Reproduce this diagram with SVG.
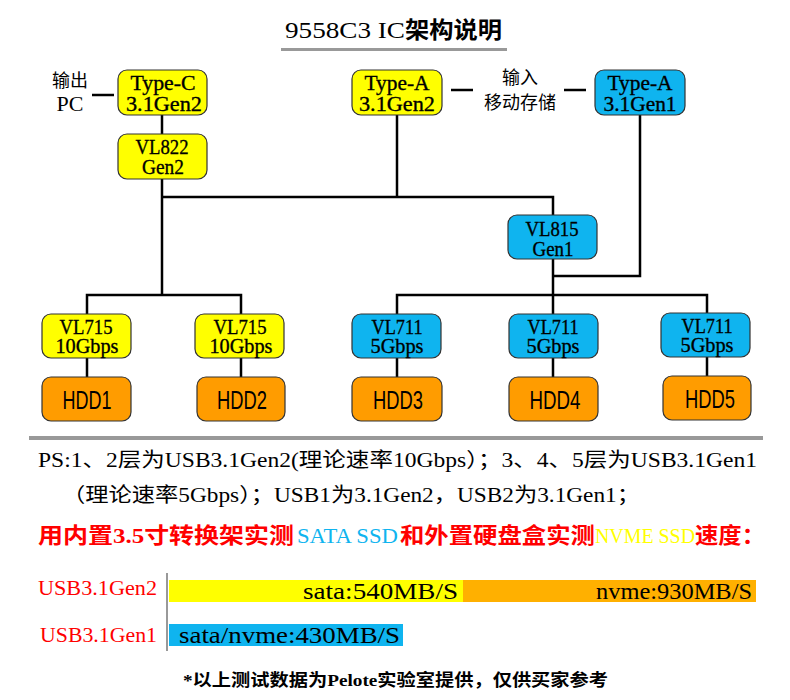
<svg xmlns="http://www.w3.org/2000/svg" width="790" height="700" viewBox="0 0 790 700">
<style>
.lbl{font-family:"Liberation Serif","Noto Sans CJK SC",serif;font-size:22px;fill:#000;stroke:#000;stroke-width:0.35px;text-anchor:middle}
.hdd{font-family:"Liberation Sans","Noto Sans CJK SC",sans-serif;font-size:25px;fill:#000;text-anchor:middle}
.cjk{font-family:"Noto Sans CJK SC",sans-serif;font-size:18px;fill:#000;text-anchor:middle}
.txt{font-family:"Liberation Serif","Noto Sans CJK SC",serif;font-size:20px;fill:#000}
.red{font-family:"Liberation Serif","Noto Sans CJK SC",serif;font-size:22px;font-weight:bold}
.reg{font-weight:normal}
.bar{font-family:"Liberation Serif","Noto Sans CJK SC",serif;font-size:24px;fill:#000}
.usb{font-family:"Liberation Serif","Noto Sans CJK SC",serif;font-size:20px;fill:#ff0000}
.y{fill:#ffff00;stroke:#333;stroke-width:1.2}
.b{fill:#0fb4ef;stroke:#333;stroke-width:1.2}
.o{fill:#ff9c00;stroke:#333;stroke-width:1.2}
.ln{stroke:#000;stroke-width:2.5;fill:none}
</style>
<rect width="790" height="700" fill="#fff"/>
<g id="title">
<text x="285" y="38" font-family="Liberation Serif,Noto Sans CJK SC,serif" font-size="24" textLength="120" lengthAdjust="spacingAndGlyphs">9558C3 IC</text>
<text x="405" y="38" font-family="Noto Sans CJK SC,sans-serif" font-size="23" font-weight="bold" textLength="97" lengthAdjust="spacingAndGlyphs">架构说明</text>
<rect x="281" y="48" width="226" height="3" fill="#999"/>
</g>
<g id="connectors" class="ln">
<path d="M92 95H114"/>
<path d="M451 90H473M564 90H586"/>
<path d="M162 115V134"/>
<path d="M162 179V295"/>
<path d="M397 115V197"/>
<path d="M162 197H553V215"/>
<path d="M640 115V276H553"/>
<path d="M553 259V314"/>
<path d="M397 314V295H707V313"/>
<path d="M87 314V295H241V314"/>
<path d="M87 358V377M241 358V377M397 358V377M553 358V377M707 357V376"/>
</g>
<g id="out-pc">
<text class="cjk" x="70" y="87">输出</text>
<text class="lbl" x="70" y="111" font-size="20" style="stroke-width:0">PC</text>
</g>
<g id="in-storage">
<text class="cjk" x="520" y="84"><tspan x="520" y="84">输入</tspan><tspan x="520" y="109">移动存储</tspan></text>
</g>
<g id="typec">
<rect class="y" x="118" y="70" width="89" height="45" rx="9"/>
<text class="lbl"><tspan x="163" y="90" textLength="65" lengthAdjust="spacingAndGlyphs">Type-C</tspan><tspan x="164" y="111" textLength="76" lengthAdjust="spacingAndGlyphs">3.1Gen2</tspan></text>
</g>
<g id="vl822">
<rect class="y" x="118" y="134" width="89" height="45" rx="9"/>
<text class="lbl"><tspan x="162" y="154" textLength="53" lengthAdjust="spacingAndGlyphs">VL822</tspan><tspan x="163" y="174" textLength="42" lengthAdjust="spacingAndGlyphs">Gen2</tspan></text>
</g>
<g id="typea1">
<rect class="y" x="352" y="70" width="90" height="45" rx="9"/>
<text class="lbl"><tspan x="397" y="90" textLength="65" lengthAdjust="spacingAndGlyphs">Type-A</tspan><tspan x="397" y="111" textLength="76" lengthAdjust="spacingAndGlyphs">3.1Gen2</tspan></text>
</g>
<g id="typea2">
<rect class="b" x="595" y="70" width="90" height="45" rx="9"/>
<text class="lbl"><tspan x="640" y="90" textLength="65" lengthAdjust="spacingAndGlyphs">Type-A</tspan><tspan x="640" y="111" textLength="73" lengthAdjust="spacingAndGlyphs">3.1Gen1</tspan></text>
</g>
<g id="vl815">
<rect class="b" x="508" y="215" width="89" height="44" rx="9"/>
<text class="lbl"><tspan x="552" y="236" textLength="53" lengthAdjust="spacingAndGlyphs">VL815</tspan><tspan x="553" y="256" textLength="41" lengthAdjust="spacingAndGlyphs">Gen1</tspan></text>
</g>
<g id="vl715a">
<rect class="y" x="42" y="314" width="89" height="44" rx="9"/>
<text class="lbl"><tspan x="86" y="334" textLength="53" lengthAdjust="spacingAndGlyphs">VL715</tspan><tspan x="87" y="353" textLength="63" lengthAdjust="spacingAndGlyphs">10Gbps</tspan></text>
</g>
<g id="vl715b">
<rect class="y" x="195" y="314" width="89" height="44" rx="9"/>
<text class="lbl"><tspan x="240" y="334" textLength="53" lengthAdjust="spacingAndGlyphs">VL715</tspan><tspan x="241" y="353" textLength="63" lengthAdjust="spacingAndGlyphs">10Gbps</tspan></text>
</g>
<g id="vl711a">
<rect class="b" x="352" y="314" width="89" height="44" rx="9"/>
<text class="lbl"><tspan x="397" y="334" textLength="51" lengthAdjust="spacingAndGlyphs">VL711</tspan><tspan x="397" y="353" textLength="53" lengthAdjust="spacingAndGlyphs">5Gbps</tspan></text>
</g>
<g id="vl711b">
<rect class="b" x="509" y="314" width="89" height="44" rx="9"/>
<text class="lbl"><tspan x="553" y="334" textLength="51" lengthAdjust="spacingAndGlyphs">VL711</tspan><tspan x="553" y="353" textLength="53" lengthAdjust="spacingAndGlyphs">5Gbps</tspan></text>
</g>
<g id="vl711c">
<rect class="b" x="661" y="313" width="89" height="44" rx="9"/>
<text class="lbl"><tspan x="707" y="333" textLength="51" lengthAdjust="spacingAndGlyphs">VL711</tspan><tspan x="707" y="352" textLength="53" lengthAdjust="spacingAndGlyphs">5Gbps</tspan></text>
</g>
<g id="hdd1">
<rect class="o" x="42" y="377" width="89" height="44" rx="9"/>
<text class="hdd" x="87" y="409" textLength="49" lengthAdjust="spacingAndGlyphs">HDD1</text>
</g>
<g id="hdd2">
<rect class="o" x="197" y="377" width="88" height="44" rx="9"/>
<text class="hdd" x="242" y="409" textLength="50" lengthAdjust="spacingAndGlyphs">HDD2</text>
</g>
<g id="hdd3">
<rect class="o" x="352" y="377" width="90" height="44" rx="9"/>
<text class="hdd" x="398" y="409" textLength="50" lengthAdjust="spacingAndGlyphs">HDD3</text>
</g>
<g id="hdd4">
<rect class="o" x="509" y="377" width="89" height="44" rx="9"/>
<text class="hdd" x="555" y="409" textLength="51" lengthAdjust="spacingAndGlyphs">HDD4</text>
</g>
<g id="hdd5">
<rect class="o" x="663" y="376" width="88" height="44" rx="9"/>
<text class="hdd" x="710" y="408" textLength="50" lengthAdjust="spacingAndGlyphs">HDD5</text>
</g>
<rect x="29" y="436" width="734" height="4" fill="#999"/>
<g id="notes">
<text class="txt" x="38" y="467" textLength="719" lengthAdjust="spacingAndGlyphs">PS:1、2层为USB3.1Gen2(理论速率10Gbps）；3、4、5层为USB3.1Gen1</text>
<text class="txt" x="62" y="502" textLength="578" lengthAdjust="spacingAndGlyphs">（理论速率5Gbps）；USB1为3.1Gen2，USB2为3.1Gen1；</text>
<text class="red" x="38" y="543" fill="#ff0000" textLength="256" lengthAdjust="spacingAndGlyphs">用内置3.5寸转换架实测</text>
<text class="red reg" x="297" y="543" fill="#0fb4ef" textLength="101" lengthAdjust="spacingAndGlyphs">SATA SSD</text>
<text class="red" x="400" y="543" fill="#ff0000" textLength="195" lengthAdjust="spacingAndGlyphs">和外置硬盘盒实测</text>
<text class="red reg" x="595" y="543" fill="#ffff00" textLength="100" lengthAdjust="spacingAndGlyphs">NVME SSD</text>
<text class="red" x="695" y="543" fill="#ff0000" textLength="70" lengthAdjust="spacingAndGlyphs">速度：</text>
</g>
<g id="chart">
<rect x="166" y="573" width="2" height="78" fill="#999"/>
<text class="usb" x="38" y="595" textLength="119" lengthAdjust="spacingAndGlyphs">USB3.1Gen2</text>
<text class="usb" x="40" y="642" textLength="117" lengthAdjust="spacingAndGlyphs">USB3.1Gen1</text>
<rect x="169" y="580" width="294" height="22" fill="#ffff00"/>
<rect x="463" y="580" width="293" height="22" fill="#ffb000"/>
<rect x="169" y="624" width="234" height="22" fill="#0fb4ef"/>
<text class="bar" x="303" y="599" textLength="155" lengthAdjust="spacingAndGlyphs">sata:540MB/S</text>
<text class="bar" x="596" y="599" textLength="156" lengthAdjust="spacingAndGlyphs">nvme:930MB/S</text>
<text class="bar" x="179" y="643" textLength="221" lengthAdjust="spacingAndGlyphs">sata/nvme:430MB/S</text>
</g>
<text x="183" y="686" font-family="Liberation Serif,Noto Sans CJK SC,serif" font-size="17" font-weight="bold" textLength="425" lengthAdjust="spacingAndGlyphs">*以上测试数据为Pelote实验室提供，仅供买家参考</text>
</svg>
